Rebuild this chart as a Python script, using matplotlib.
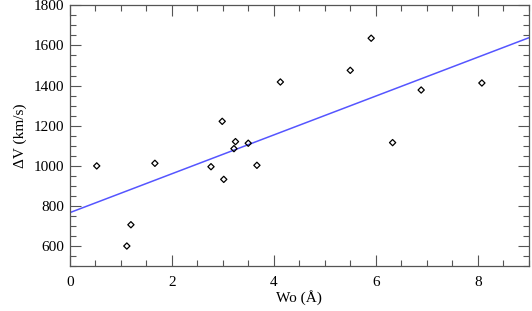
import numpy as np
import matplotlib
matplotlib.use("Agg")
import matplotlib.pyplot as plt
from matplotlib.ticker import MultipleLocator

# Data
wo = [0.53, 1.12, 1.20, 1.67, 2.77, 2.99, 3.02, 3.22, 3.25, 3.50, 3.67,
      4.13, 5.50, 5.91, 6.33, 6.89, 8.08]
dv = [1000, 601, 707, 1013, 996, 1222, 933, 1086, 1121, 1113, 1003,
      1418, 1476, 1636, 1116, 1378, 1413]

# Fitted line endpoints
fit_x = [0, 9]
fit_intercept = 767
fit_slope = 96.8

plt.rcParams["font.family"] = ["Liberation Serif", "DejaVu Serif"]

fig = plt.figure(figsize=(5.32, 3.11), dpi=100)
ax = fig.add_axes([0.131, 0.1437, 0.863, 0.8393])

fx = np.array(fit_x)
ax.plot(fx, fit_intercept + fit_slope * fx, color="#5555ff", lw=1.1)
ax.scatter(wo, dv, marker="D", s=10, facecolors="none", edgecolors="black", linewidths=0.9, zorder=3)

ax.set_xlim(0, 9)
ax.set_ylim(500, 1800)
ax.xaxis.set_major_locator(MultipleLocator(2))
ax.xaxis.set_minor_locator(MultipleLocator(0.5))
ax.yaxis.set_minor_locator(MultipleLocator(50))
ax.set_yticks([600, 800, 1000, 1200, 1400, 1600, 1800])

ax.tick_params(which="both", direction="in", top=True, right=True, color="#555555", labelsize=11, width=0.8)
ax.tick_params(which="major", length=8, pad=4)
ax.tick_params(axis="x", which="major", pad=7)
ax.tick_params(which="minor", length=4)
for s in ax.spines.values():
    s.set_color("#555555")
    s.set_linewidth(0.9)

ax.set_xlabel("Wo (Å)", fontsize=11, labelpad=1)
ax.set_ylabel("ΔV (km/s)", fontsize=11, labelpad=5)

fig.savefig("out.png", dpi=100)
